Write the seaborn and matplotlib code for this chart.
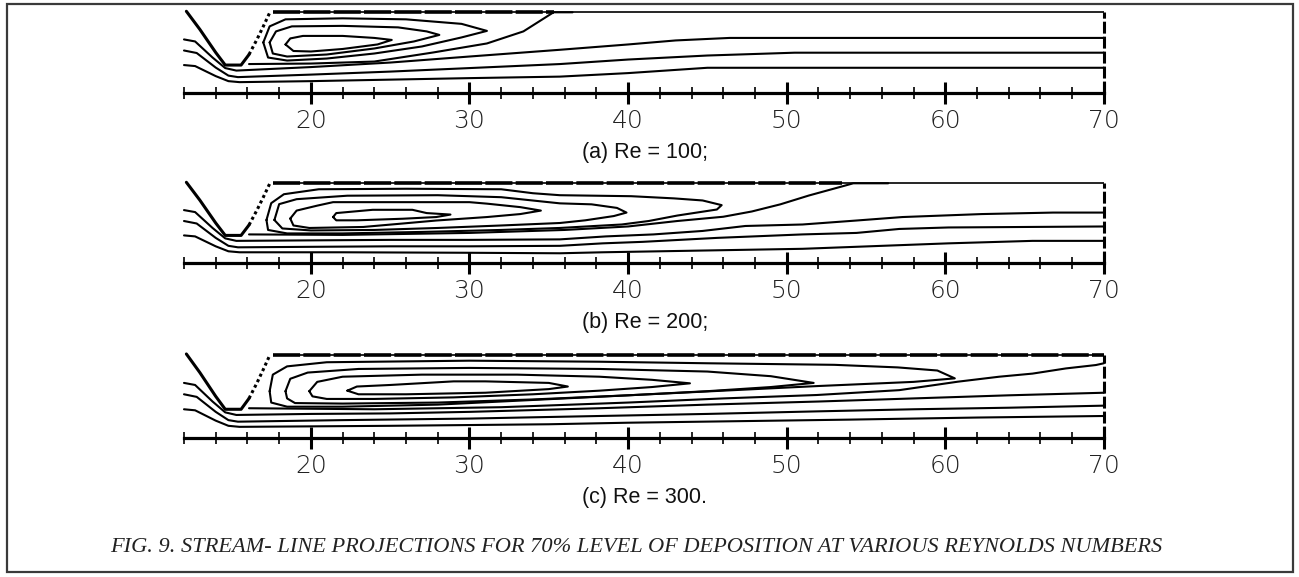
import matplotlib
matplotlib.use("Agg")
import matplotlib.pyplot as plt
import seaborn as sns
import pandas as pd
from matplotlib.patches import Rectangle

sns.set_theme(style="white")
plt.rcParams["font.family"] = ["DejaVu Sans"]

# ---------------- axis / scale values ----------------
X_MIN, X_MAX = 12, 70
MAJOR_TICKS = [20, 30, 40, 50, 60, 70]
MAJOR_LABELS = ["20", "30", "40", "50", "60", "70"]
MINOR_TICKS = list(range(12, 71, 2))
WALL_Y = 8.0

PANEL_LABELS = ["(a) Re = 100;", "(b) Re = 200;", "(c) Re = 300."]
FIG_CAPTION = ("FIG. 9. STREAM- LINE PROJECTIONS FOR 70% LEVEL OF DEPOSITION "
               "AT VARIOUS REYNOLDS NUMBERS")

# ---------------- deposit (step) geometry ----------------
STEP_LEFT = [(12.15, 8.1), (13.0, 6.3), (14.0, 4.0), (14.6, 2.75), (15.6, 2.75), (16.1, 3.8)]
STEP_RIGHT = [(16.1, 3.8), (16.6, 5.3), (17.0, 6.6), (17.4, 7.95)]

# ---------------- inlet parts of the through-flow streamlines ----------------
INLET_1 = [(12.0, 5.3), (12.7, 5.1), (13.8, 3.5), (14.6, 2.45)]
INLET_2 = [(12.0, 4.2), (12.8, 3.95), (14.0, 2.5), (14.8, 1.7)]
INLET_3 = [(12.0, 2.75), (12.7, 2.65), (14.0, 1.65), (14.8, 1.15)]

# ---------------- (a) Re = 100 ----------------
A_OUT_1 = [(15.3, 2.2), (20, 2.55), (25, 3.0), (30, 3.6), (35.7, 4.27), (40, 4.8), (43, 5.2), (46.4, 5.45), (70, 5.45)]
A_OUT_2 = [(15.4, 1.55), (20, 1.8), (25, 2.1), (30, 2.45), (35.7, 2.85), (40, 3.3), (45, 3.7), (50.5, 3.98), (70, 3.98)]
A_OUT_3 = [(15.5, 1.05), (20, 1.15), (25, 1.3), (30, 1.45), (35.7, 1.6), (40, 1.95), (45, 2.48), (70, 2.48)]
A_SEPARATRIX = [(16.1, 2.85), (20, 2.9), (24, 3.1), (27.7, 4.0), (31.1, 4.9), (33.4, 6.1), (34.2, 6.9), (35.3, 8.0), (36.5, 8.0)]
A_EDDY_1 = [(18.4, 4.8), (18.7, 5.4), (19.5, 5.65), (22, 5.65), (24, 5.45), (25.1, 5.25), (24.2, 4.8), (22, 4.35), (20, 4.1), (18.9, 4.15), (18.4, 4.8)]
A_EDDY_2 = [(17.4, 5.0), (17.8, 6.1), (18.8, 6.6), (22, 6.65), (25.5, 6.5), (27.3, 6.1), (28.1, 5.75), (26.5, 5.1), (24, 4.4), (21, 3.8), (18.5, 3.6), (17.6, 3.9), (17.4, 5.0)]
A_EDDY_3 = [(17.0, 5.0), (17.4, 6.6), (18.4, 7.3), (22, 7.4), (26, 7.3), (29.5, 6.85), (31.1, 6.15), (29.5, 5.5), (27, 4.6), (24, 3.9), (21, 3.4), (18.5, 3.2), (17.3, 3.5), (17.0, 5.0)]
A_REATTACH = 35.3

# ---------------- (b) Re = 200 ----------------
B_OUT_1 = [(15.3, 2.2), (20, 2.25), (25, 2.3), (30, 2.3), (35.7, 2.35), (38.6, 2.65), (41.6, 2.85), (44.7, 3.2), (47.4, 3.7), (51, 3.85), (54.4, 4.25), (57.3, 4.6), (62.3, 4.9), (66.8, 5.05), (70, 5.05)]
B_OUT_2 = [(15.4, 1.55), (20, 1.6), (25, 1.65), (30, 1.65), (35.7, 1.7), (38.4, 1.95), (40.9, 2.1), (45.6, 2.5), (51, 2.85), (54.4, 3.0), (57.1, 3.4), (60.2, 3.55), (70, 3.65)]
B_OUT_3 = [(15.5, 1.05), (22, 1.05), (30, 1.0), (35.7, 0.95), (38.4, 1.05), (45.6, 1.25), (51, 1.4), (60.2, 1.95), (65.5, 2.2), (70, 2.2)]
B_SEPARATRIX = [(16.1, 2.85), (22, 2.8), (30, 3.0), (36, 3.3), (40, 3.65), (43.1, 4.2), (46, 4.63), (47.8, 5.16), (49.6, 5.88), (51.4, 6.77), (53.5, 7.69), (54.2, 8.0), (56.4, 8.0)]
B_EDDY_1 = [(21.4, 4.6), (21.6, 5.0), (23.9, 5.33), (26.4, 5.33), (27.3, 5.0), (28.8, 4.85), (27.9, 4.6), (25.8, 4.43), (22.9, 4.27), (21.6, 4.27), (21.4, 4.6)]
B_EDDY_2 = [(18.7, 4.45), (19.1, 5.25), (20.4, 5.75), (21.4, 6.1), (30.0, 6.1), (31.1, 5.95), (33.2, 5.6), (34.5, 5.25), (33.2, 4.9), (31.1, 4.6), (27.9, 4.25), (25.8, 3.95), (23.3, 3.6), (19.9, 3.5), (18.9, 3.75), (18.7, 4.45)]
B_EDDY_3 = [(17.7, 4.3), (18.0, 5.9), (19.1, 6.4), (22.3, 6.75), (28, 6.8), (32, 6.6), (35.7, 5.98), (37.7, 5.88), (39.3, 5.52), (39.9, 5.05), (39.1, 4.7), (37.3, 4.27), (35.7, 4.0), (32, 3.75), (28, 3.5), (24, 3.3), (20, 3.25), (18.2, 3.45), (17.7, 4.3)]
B_EDDY_4 = [(17.2, 4.3), (17.5, 6.0), (18.3, 6.9), (20.5, 7.4), (26, 7.45), (32, 7.4), (34, 7.0), (35.7, 6.8), (40.2, 6.7), (42.9, 6.48), (44.7, 6.27), (45.9, 5.8), (45.6, 5.36), (43.1, 4.75), (41.3, 4.2), (39.6, 3.85), (37.9, 3.7), (35.7, 3.5), (32, 3.3), (27, 3.1), (22, 2.95), (18.5, 2.95), (17.3, 3.3), (17.2, 4.3)]
B_REATTACH = 53.5

# ---------------- (c) Re = 300 ----------------
C_OUT_1 = [(15.3, 2.2), (20, 2.3), (25, 2.35), (30, 2.5), (38.2, 2.85), (45, 3.2), (52, 3.5), (58, 3.8), (64, 4.1), (70, 4.35)]
C_OUT_2 = [(15.4, 1.55), (22, 1.7), (30, 1.85), (38.2, 2.1), (45, 2.3), (52, 2.55), (58, 2.75), (64, 2.9), (70, 3.1)]
C_OUT_3 = [(15.5, 1.05), (25, 1.15), (35, 1.3), (40, 1.45), (47, 1.6), (54, 1.75), (62, 1.95), (70, 2.1)]
C_SEPARATRIX = [(16.1, 2.85), (24, 2.75), (32, 2.95), (40, 3.4), (46, 3.8), (51.9, 4.13), (57.1, 4.6), (60.8, 5.42), (63.4, 5.9), (65.5, 6.2), (67.6, 6.7), (69.5, 7.03), (70, 7.2)]
C_EDDY_1 = [(22.3, 4.55), (22.9, 4.95), (25, 5.1), (29, 5.45), (31, 5.45), (35, 5.3), (36.2, 4.95), (35, 4.7), (31, 4.35), (26, 4.2), (23, 4.2), (22.3, 4.55)]
C_EDDY_2 = [(19.9, 4.5), (20.4, 5.4), (22, 5.9), (27, 6.1), (33, 6.1), (38.2, 5.9), (41.5, 5.6), (43.9, 5.26), (41.5, 4.9), (38.2, 4.55), (34, 4.2), (29, 3.9), (24, 3.75), (21, 3.75), (20.1, 4.0), (19.9, 4.5)]
C_EDDY_3 = [(18.4, 4.5), (18.7, 5.7), (19.8, 6.3), (23, 6.65), (30, 6.75), (38.2, 6.65), (45, 6.4), (49, 5.95), (51.7, 5.3), (49, 4.9), (45, 4.5), (40, 4.1), (34, 3.7), (28, 3.4), (22, 3.3), (19, 3.35), (18.5, 3.8), (18.4, 4.5)]
C_EDDY_4 = [(17.4, 4.5), (17.6, 6.1), (18.5, 6.9), (21, 7.3), (30, 7.45), (38.2, 7.35), (45, 7.2), (53, 7.05), (57, 6.8), (59.5, 6.5), (60.6, 5.74), (58, 5.4), (52, 5.0), (46, 4.55), (40, 4.1), (34, 3.65), (28, 3.2), (22, 3.0), (18.5, 3.0), (17.5, 3.4), (17.4, 4.5)]
C_REATTACH = 70.0

PANELS = [
    dict(outs=[INLET_1 + A_OUT_1, INLET_2 + A_OUT_2, INLET_3 + A_OUT_3],
         sep=A_SEPARATRIX, eddies=[A_EDDY_1, A_EDDY_2, A_EDDY_3], reattach=A_REATTACH),
    dict(outs=[INLET_1 + B_OUT_1, INLET_2 + B_OUT_2, INLET_3 + B_OUT_3],
         sep=B_SEPARATRIX, eddies=[B_EDDY_1, B_EDDY_2, B_EDDY_3, B_EDDY_4], reattach=B_REATTACH),
    dict(outs=[INLET_1 + C_OUT_1, INLET_2 + C_OUT_2, INLET_3 + C_OUT_3],
         sep=C_SEPARATRIX, eddies=[C_EDDY_1, C_EDDY_2, C_EDDY_3, C_EDDY_4], reattach=C_REATTACH),
]

# ---------------- layout (pixels) ----------------
W, H = 1299, 577
AXIS_PX = [92.7, 262.7, 437.7]
WALL_PX = [12.3, 183.3, 355.0]
X_PAD = 0.6
Y_LO, Y_HI = -1.2, 8.6
PX_X0, PX_PER_X = 184.0, 15.86

fig = plt.figure(figsize=(W / 100, H / 100), dpi=100)
fig.patch.set_facecolor("white")

# outer frame
fig.add_artist(Rectangle((7 / W, 1 - 572 / H), (1293 - 7) / W, (572 - 4) / H,
                         transform=fig.transFigure, fill=False, edgecolor="#3a3a3a", lw=1.6))


def to_df(lines):
    rows = []
    for i, pts in enumerate(lines):
        for j, (x, y) in enumerate(pts):
            rows.append(dict(line=i, order=j, x=x, y=y))
    return pd.DataFrame(rows)


for k, panel in enumerate(PANELS):
    kpx = (AXIS_PX[k] - WALL_PX[k]) / WALL_Y
    left_px = PX_X0 - X_PAD * PX_PER_X
    width_px = (X_MAX - X_MIN + 2 * X_PAD) * PX_PER_X
    bottom_px = AXIS_PX[k] - Y_LO * kpx
    top_px = AXIS_PX[k] - Y_HI * kpx
    ax = fig.add_axes([left_px / W, 1 - bottom_px / H, width_px / W, (bottom_px - top_px) / H])
    ax.set_facecolor("none")

    # streamlines (through-flow, separatrix, eddies)
    lines = panel["outs"] + [panel["sep"]] + panel["eddies"]
    df = to_df(lines)
    sns.lineplot(data=df, x="x", y="y", units="line", estimator=None, sort=False,
                 color="black", lw=1.5, ax=ax, legend=False)

    # deposit step: solid left face, dotted right face
    sdf = to_df([STEP_LEFT])
    sns.lineplot(data=sdf, x="x", y="y", estimator=None, sort=False,
                 color="black", lw=2.2, ax=ax, legend=False)
    rdf = to_df([STEP_RIGHT])
    sns.lineplot(data=rdf, x="x", y="y", estimator=None, sort=False,
                 color="black", lw=2.2, ax=ax, legend=False, linestyle=(0, (1, 1)))

    # top wall: thin line, thick dashes over the recirculation zone
    ax.plot([17.6, X_MAX], [WALL_Y, WALL_Y], color="black", lw=1.2, solid_capstyle="butt")
    ax.plot([17.6, panel["reattach"]], [WALL_Y, WALL_Y], color="black", lw=2.6,
            dashes=(7.5, 0.9), dash_capstyle="butt")
    # outlet (right) boundary, dashed
    ax.plot([X_MAX, X_MAX], [0, WALL_Y], color="black", lw=2.2, dashes=(3.9, 1.0),
            dash_capstyle="butt")

    ax.set_xlim(X_MIN - X_PAD, X_MAX + X_PAD)
    ax.set_ylim(Y_LO, Y_HI)
    for s in ["left", "right", "top"]:
        ax.spines[s].set_visible(False)
    ax.spines["bottom"].set_position(("data", 0))
    ax.spines["bottom"].set_bounds(X_MIN, X_MAX)
    ax.spines["bottom"].set_linewidth(2.3)
    ax.spines["bottom"].set_color("black")
    ax.set_yticks([])
    ax.set_xticks(MAJOR_TICKS)
    ax.set_xticklabels(MAJOR_LABELS)
    ax.set_xticks(MINOR_TICKS, minor=True)
    ax.tick_params(axis="x", which="major", direction="inout", length=15.5, width=2.2,
                   color="black", pad=4, labelsize=18, labelcolor="#222222", bottom=True)
    ax.tick_params(axis="x", which="minor", direction="inout", length=9, width=1.2,
                   color="black", bottom=True)
    for t in ax.get_xticklabels():
        t.set_fontfamily("DejaVu Sans")
        t.set_fontweight("light")
    ax.set_xlabel("")
    ax.set_ylabel("")

    # panel label
    fig.text(645 / W, 1 - (AXIS_PX[k] + 60) / H, PANEL_LABELS[k], ha="center", va="center",
             fontsize=15.5, family="Liberation Sans", color="#111111")

fig.text(636 / W, 1 - 548 / H, FIG_CAPTION, ha="center", va="center", fontsize=16.1,
         family="Liberation Serif", style="italic", color="#222222")

fig.savefig("out.png", dpi=100, facecolor="white")
